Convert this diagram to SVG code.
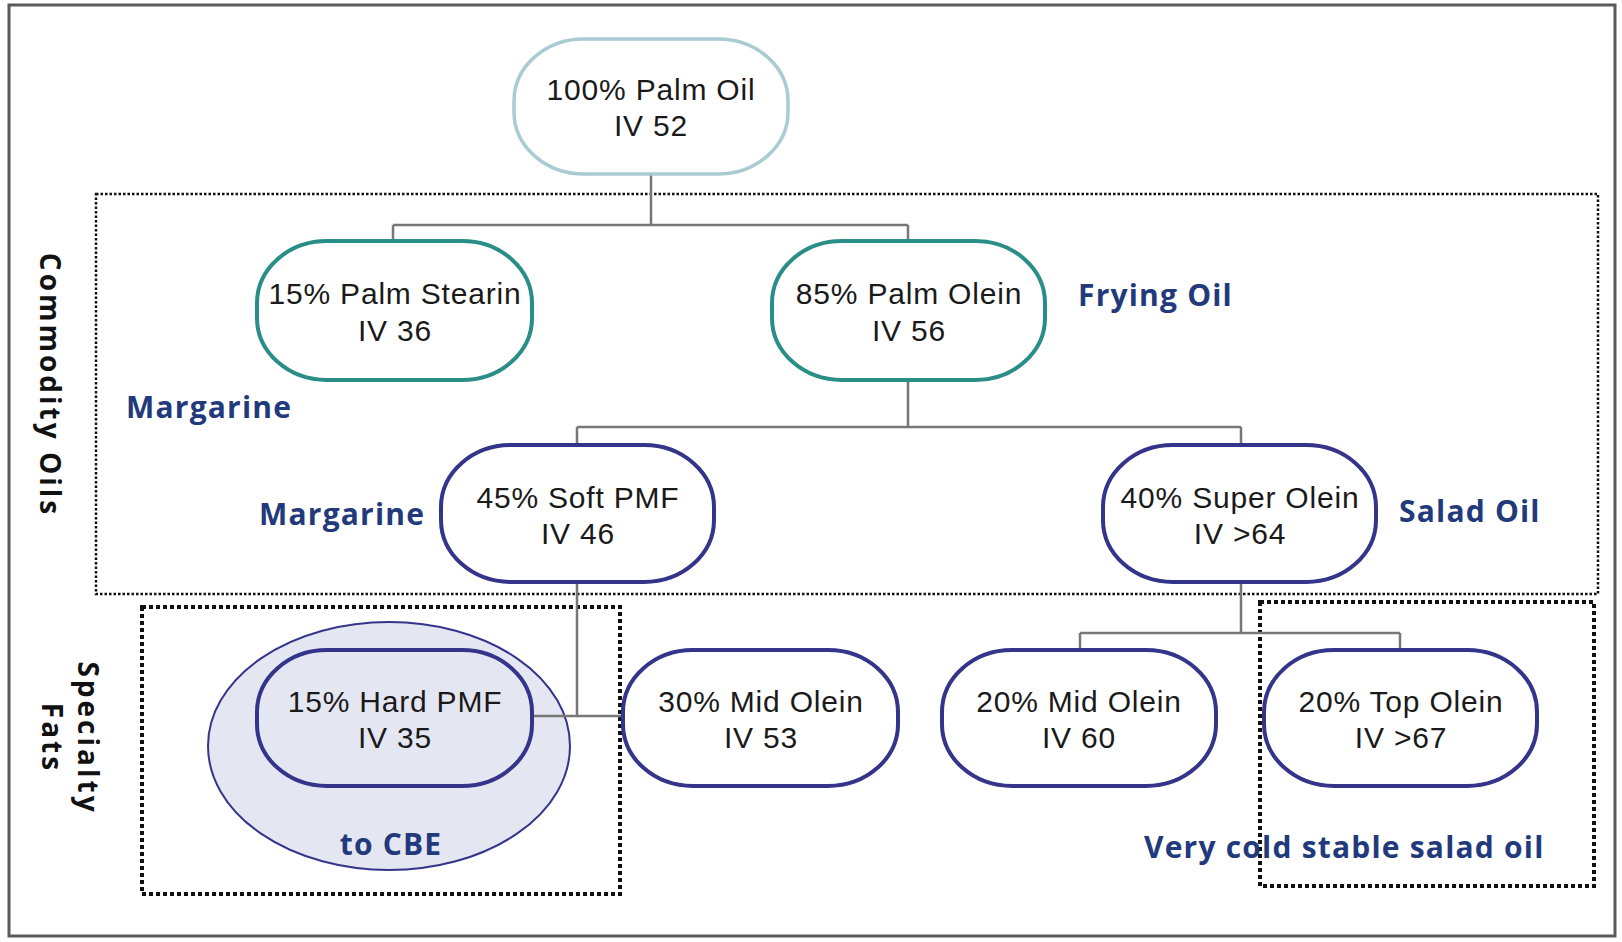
<svg xmlns="http://www.w3.org/2000/svg" width="1622" height="942" viewBox="0 0 1622 942">
<style>
.node rect{fill:#ffffff;stroke-width:4}
.top rect{stroke:#a9ccd2;stroke-width:3.5}
.teal rect{stroke:#2a8e88}
.navy rect{stroke:#34348a}
.nt{font-family:"Liberation Sans","Open Sans",sans-serif;font-size:30px;fill:#1a1a1a;text-anchor:middle;letter-spacing:0.8px}
.lbl{font-family:"Open Sans","Liberation Sans",sans-serif;font-size:30px;font-weight:bold;fill:#223a7c;letter-spacing:1.2px}
.side{font-family:"Open Sans","Liberation Sans",sans-serif;font-size:28px;font-weight:bold;fill:#111;letter-spacing:3px;text-anchor:middle}
.conn path{fill:none;stroke:#777;stroke-width:2.5}
.dot1{fill:none;stroke:#111;stroke-width:2.5;stroke-dasharray:2.5 2}
.dot2{fill:none;stroke:#111;stroke-width:4;stroke-dasharray:4 3}
</style>
<rect x="0" y="0" width="1622" height="942" fill="#ffffff"/>
<rect x="9" y="5" width="1606" height="931" fill="none" stroke="#5a5a5a" stroke-width="3"/>

<g id="commodity-box"><rect class="dot1" x="96" y="194" width="1502" height="400"/></g>
<g id="specialty-box"><rect class="dot2" x="142" y="607" width="478" height="287"/></g>
<g id="coldstable-box"><rect class="dot2" x="1260" y="602" width="334" height="284"/></g>

<g id="cbe-ellipse"><ellipse cx="389" cy="746" rx="181" ry="124" fill="#e4e6f2" stroke="#34348a" stroke-width="2"/></g>

<g class="conn" id="connectors">
<path d="M651 174 V225 M393 225 H908 M393 225 V241 M908 225 V241"/>
<path d="M908 380 V427 M577 427 H1241 M577 427 V445 M1241 427 V445"/>
<path d="M577 582 V716 M532 716 H623"/>
<path d="M1241 582 V633 M1080 633 H1400 M1080 633 V650 M1400 633 V650"/>
</g>

<g id="n-palm-oil" class="node top"><rect x="514" y="39" width="274" height="135" rx="70" ry="62"/>
<text class="nt" x="651" y="100">100% Palm Oil</text><text class="nt" x="651" y="136">IV 52</text></g>

<g id="n-stearin" class="node teal"><rect x="257" y="241" width="275" height="139" rx="70" ry="62"/>
<text class="nt" x="395" y="304">15% Palm Stearin</text><text class="nt" x="395" y="341">IV 36</text></g>

<g id="n-olein" class="node teal"><rect x="772" y="241" width="273" height="139" rx="70" ry="62"/>
<text class="nt" x="909" y="304">85% Palm Olein</text><text class="nt" x="909" y="341">IV 56</text></g>

<g id="n-soft-pmf" class="node navy"><rect x="441" y="445" width="273" height="137" rx="70" ry="62"/>
<text class="nt" x="578" y="508">45% Soft PMF</text><text class="nt" x="578" y="544">IV 46</text></g>

<g id="n-super-olein" class="node navy"><rect x="1103" y="445" width="273" height="137" rx="70" ry="62"/>
<text class="nt" x="1240" y="508">40% Super Olein</text><text class="nt" x="1240" y="544">IV &gt;64</text></g>

<g id="n-hard-pmf" class="node navy"><rect x="257" y="650" width="275" height="136" rx="70" ry="62" style="fill:#e4e6f2"/>
<text class="nt" x="395" y="712">15% Hard PMF</text><text class="nt" x="395" y="748">IV 35</text></g>

<g id="n-mid-olein-30" class="node navy"><rect x="623" y="650" width="275" height="136" rx="70" ry="62"/>
<text class="nt" x="761" y="712">30% Mid Olein</text><text class="nt" x="761" y="748">IV 53</text></g>

<g id="n-mid-olein-20" class="node navy"><rect x="942" y="650" width="274" height="136" rx="70" ry="62"/>
<text class="nt" x="1079" y="712">20% Mid Olein</text><text class="nt" x="1079" y="748">IV 60</text></g>

<g id="n-top-olein" class="node navy"><rect x="1264" y="650" width="273" height="136" rx="70" ry="62"/>
<text class="nt" x="1401" y="712">20% Top Olein</text><text class="nt" x="1401" y="748">IV &gt;67</text></g>

<g id="labels">
<text class="lbl" x="1078" y="306">Frying Oil</text>
<text class="lbl" x="126" y="418">Margarine</text>
<text class="lbl" x="259" y="525">Margarine</text>
<text class="lbl" x="1399" y="522">Salad Oil</text>
<text class="lbl" x="391" y="855" text-anchor="middle">to CBE</text>
<text class="lbl" x="1144" y="858">Very cold stable salad oil</text>
</g>

<g id="side-labels">
<text class="side" transform="translate(40 385) rotate(90)">Commodity Oils</text>
<text class="side" transform="translate(78 738) rotate(90)">Specialty</text>
<text class="side" transform="translate(42 738) rotate(90)">Fats</text>
</g>
</svg>
